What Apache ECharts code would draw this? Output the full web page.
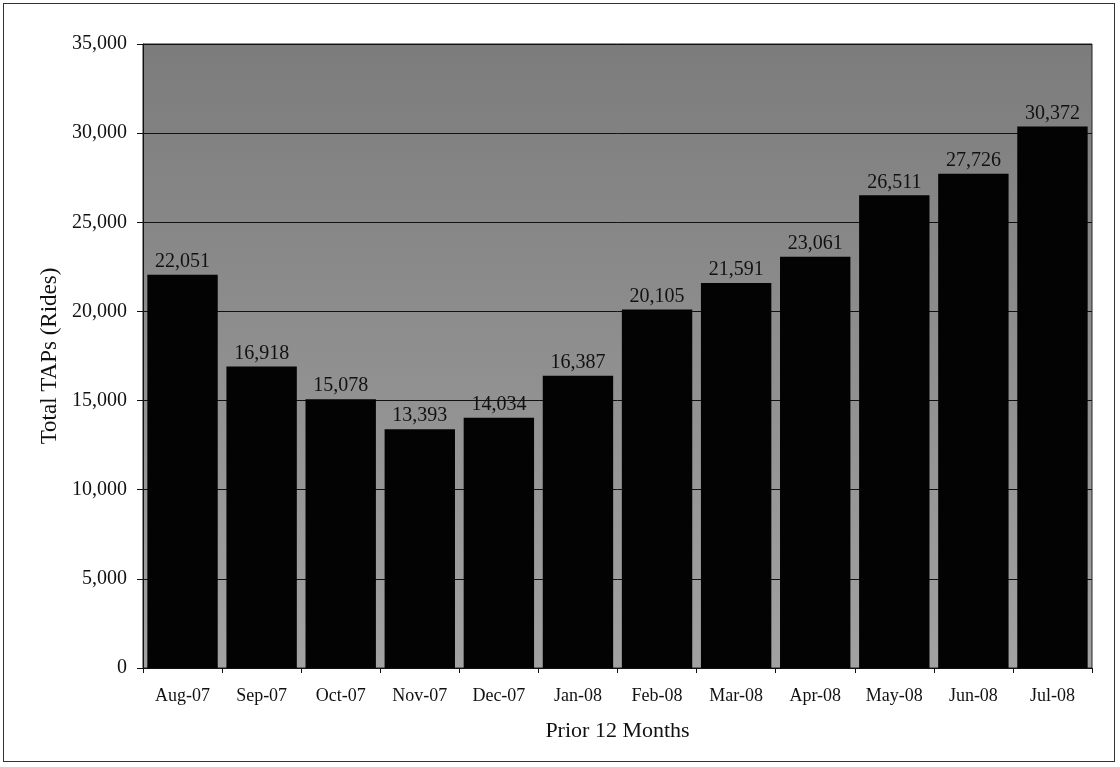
<!DOCTYPE html>
<html>
<head>
<meta charset="utf-8">
<style>
  html, body { margin: 0; padding: 0; background: #ffffff; }
  #frame { position: absolute; left: 3px; top: 3px; width: 1112px; height: 759px; border: 1px solid #333; box-sizing: border-box; }
  #chart { position: absolute; left: 0; top: 0; width: 1120px; height: 767px; }
</style>
<script src="https://cdn.jsdelivr.net/npm/echarts@6/dist/echarts.min.js"></script>
</head>
<body>
<div id="frame"></div>
<div id="chart"></div>
<script>
// Monthly TAP ride totals over the prior 12 months
const months = ['Aug-07', 'Sep-07', 'Oct-07', 'Nov-07', 'Dec-07', 'Jan-08',
                'Feb-08', 'Mar-08', 'Apr-08', 'May-08', 'Jun-08', 'Jul-08'];
const rides = [22051, 16918, 15078, 13393, 14034, 16387,
               20105, 21591, 23061, 26511, 27726, 30372];
const yTicks = [0, 5000, 10000, 15000, 20000, 25000, 30000, 35000];

const serif = '"Liberation Serif", "DejaVu Serif", serif';
const chart = echarts.init(document.getElementById('chart'));

chart.setOption({
  animation: false,
  grid: {
    left: 143, right: 28, top: 44, bottom: 99,
    show: true,
    borderColor: '#222',
    borderWidth: 1,
    backgroundColor: new echarts.graphic.LinearGradient(0, 0, 0, 1, [
      { offset: 0, color: '#7c7c7c' },
      { offset: 0.45, color: '#8d8d8d' },
      { offset: 1, color: '#a2a2a2' }
    ])
  },
  xAxis: {
    type: 'category',
    data: months,
    name: 'Prior 12 Months',
    nameLocation: 'middle',
    nameGap: 52,
    nameTextStyle: { fontFamily: serif, fontSize: 22, color: '#111' },
    axisLine: { lineStyle: { color: '#111', width: 1 } },
    axisTick: { show: true, alignWithLabel: false, length: 5, lineStyle: { color: '#111' } },
    axisLabel: { fontFamily: serif, fontSize: 18, color: '#111', margin: 19 }
  },
  yAxis: {
    type: 'value',
    min: yTicks[0],
    max: yTicks[yTicks.length - 1],
    interval: 5000,
    name: 'Total TAPs (Rides)',
    nameLocation: 'middle',
    nameGap: 82,
    nameRotate: 90,
    nameTextStyle: { fontFamily: serif, fontSize: 23, color: '#111' },
    axisLine: { show: true, lineStyle: { color: '#111', width: 1 } },
    axisTick: { show: true, length: 6, lineStyle: { color: '#111' } },
    axisLabel: {
      fontFamily: serif, fontSize: 20, color: '#111', margin: 16,
      formatter: v => v.toLocaleString('en-US')
    },
    splitLine: { show: true, lineStyle: { color: '#111', width: 1 } }
  },
  series: [{
    type: 'bar',
    data: rides,
    barCategoryGap: '11%',
    itemStyle: { color: '#030303' },
    label: {
      show: true,
      position: 'top',
      distance: 3,
      fontFamily: serif,
      fontSize: 20,
      color: '#111',
      formatter: p => p.value.toLocaleString('en-US')
    }
  }]
});
</script>
</body>
</html>
